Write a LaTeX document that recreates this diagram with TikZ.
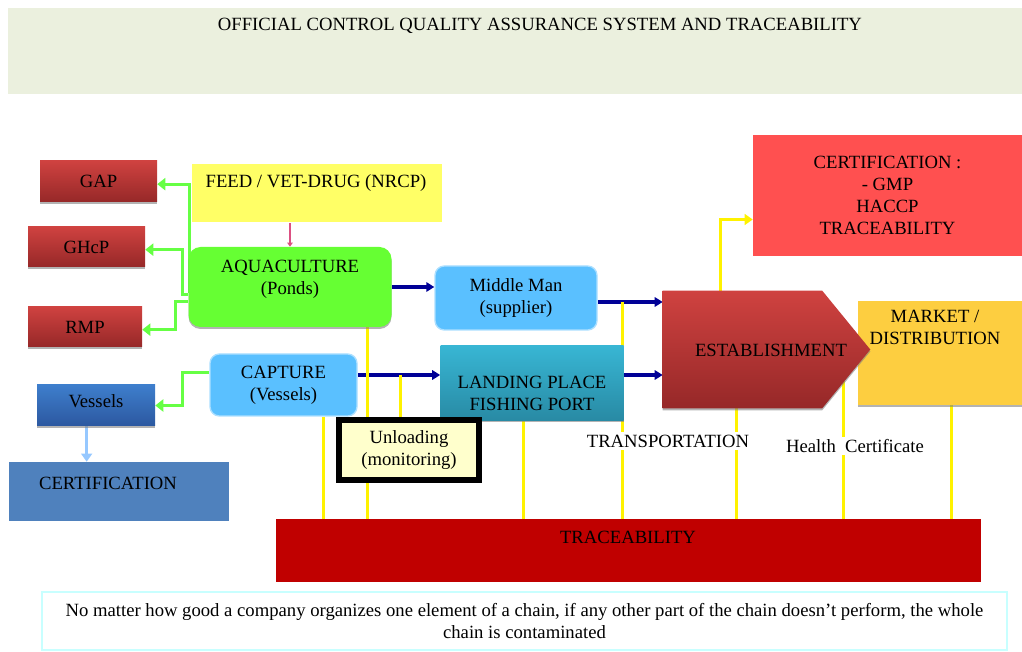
\documentclass[tikz,border=0pt]{standalone}
\usepackage{fontspec}
\setmainfont{Liberation Serif}
\usepackage{tikz}
\usetikzlibrary{arrows.meta,positioning,shadows,backgrounds}

\definecolor{bannerbg}{RGB}{235,240,222}
\definecolor{brick}{RGB}{207,66,64}
\definecolor{brickdark}{RGB}{150,40,40}
\definecolor{feedyellow}{RGB}{255,255,102}
\definecolor{pondgreen}{RGB}{102,255,51}
\definecolor{arrowgreen}{RGB}{102,255,68}
\definecolor{skyblue}{RGB}{90,192,255}
\definecolor{tealtop}{RGB}{56,182,212}
\definecolor{tealbot}{RGB}{40,138,164}
\definecolor{vesseltop}{RGB}{62,126,204}
\definecolor{vesselbot}{RGB}{44,88,160}
\definecolor{certblue}{RGB}{79,129,189}
\definecolor{paleblue}{RGB}{150,200,255}
\definecolor{navy}{RGB}{0,0,150}
\definecolor{certred}{RGB}{255,80,80}
\definecolor{marketgold}{RGB}{253,206,64}
\definecolor{tracered}{RGB}{192,0,0}
\definecolor{footline}{RGB}{200,255,255}
\definecolor{paleyellow}{RGB}{255,255,204}
\definecolor{drugpink}{RGB}{220,80,130}

\begin{document}
\begin{tikzpicture}[x=0.75pt,y=-0.75pt,
    every node/.style={font=\fontsize{14}{16.5}\selectfont, align=center, inner sep=0pt},
    dropped/.style={drop shadow={shadow xshift=0pt, shadow yshift=-1.5pt, fill=gray, opacity=.6}},
    redbox/.style={top color=brick, bottom color=brickdark, dropped},
    skybox/.style={fill=skyblue, draw=skyblue!50!white, line width=1pt, rounded corners=7pt},
    garrow/.style={draw=arrowgreen, line width=2.25pt, -{Triangle[length=6pt,width=9pt]}},
    narrow/.style={draw=navy, line width=2.5pt, -{Triangle[length=6pt,width=7pt]}},
    yline/.style={draw=yellow, line width=2.25pt},
    textbg/.style={fill=white, inner sep=2pt}]
\useasboundingbox (0,0) rectangle (1022,652);

\node[fill=bannerbg, minimum width=760.5pt, minimum height=64.5pt] (banner) at (515,51) {};
\node (title) at (540,26) {OFFICIAL CONTROL QUALITY ASSURANCE SYSTEM AND TRACEABILITY};

\node[redbox, minimum width=87.75pt, minimum height=30.75pt] (gap)  at (98.5,181.5) {GAP};
\node[redbox, minimum width=87.75pt, minimum height=30pt]    (ghcp) at (86.5,247)   {GHcP};
\node[redbox, minimum width=85.5pt,  minimum height=30pt]    (rmp)  at (85,327)     {RMP};

\node[fill=feedyellow, minimum width=187.5pt, minimum height=43.5pt] (feed) at (316.5,193.5) {};
\node (feedtext) at (316,183) {FEED / VET-DRUG (NRCP)};

\node[fill=pondgreen, rounded corners=9pt, dropped, minimum width=152.25pt, minimum height=60pt] (aqua) at (290,287) {};
\node (aquatext) at (290,279) {AQUACULTURE\\(Ponds)};

\node[skybox, minimum width=121.5pt, minimum height=48pt] (mid) at (516,298) {Middle Man\\(supplier)};
\node[skybox, minimum width=110.25pt, minimum height=46.5pt] (capture) at (283.5,385) {CAPTURE\\(Vessels)};
\node[top color=tealtop, bottom color=tealbot, dropped, minimum width=137.25pt, minimum height=56.25pt] (landing) at (532,383) {};
\node (landtext) at (532,393) {LANDING PLACE\\FISHING PORT};

\node[top color=vesseltop, bottom color=vesselbot, dropped, minimum width=88.5pt, minimum height=30.75pt] (vessels) at (96,405.5) {};
\node (vesseltext) at (96,401) {Vessels};
\node[fill=certblue, minimum width=165pt, minimum height=44.25pt] (certb) at (119,491.5) {};
\node (certbtext) at (108,483) {CERTIFICATION};

\node[draw=black, line width=4.5pt, fill=paleyellow, minimum width=105pt, minimum height=45pt] (unload) at (409,450) {Unloading\\(monitoring)};

\node[fill=certred, minimum width=201.75pt, minimum height=90.75pt] (certr) at (887.5,195.5) {CERTIFICATION :\\- GMP\\HACCP\\TRACEABILITY};
\node[fill=marketgold, dropped, minimum width=123pt, minimum height=78pt] (market) at (940,353) {};
\node (markettext) at (935,327) {MARKET /\\DISTRIBUTION};

% establishment: body node plus its pointed end
\node[minimum width=119.25pt, minimum height=87.75pt] (est) at (742.5,349.5) {};
\path[top color=brick, bottom color=brickdark, dropped]
  (est.north west) -- (est.north east) -- ([xshift=36pt]est.east) -- (est.south east) -- (est.south west) -- cycle;
\node (esttext) at (771,350) {ESTABLISHMENT};

\node[fill=tracered, minimum width=528.75pt, minimum height=47.25pt] (trace) at (628.5,550.5) {};
\node (tracetext) at (628,537) {TRACEABILITY};
\node[draw=footline, line width=1pt, minimum width=723.75pt, minimum height=43.5pt] (footer) at (524.5,621)
  {No matter how good a company organizes one element of a chain, if any other part of the chain doesn't perform, the whole\\chain is contaminated};

\node[textbg] (transport) at (668,441) {TRANSPORTATION};
\node[textbg] (health) at (855,446) {Health\ \ Certificate};

\begin{scope}[on background layer]
  % green lines from the farm and the boat
  \draw[garrow] (aqua.west) ++(1,6) |- ([yshift=-2pt]gap.east);
  \draw[garrow] (aqua.west) ++(0,8) -- ++(-6,0) |- ([yshift=-2pt]ghcp.east);
  \draw[garrow] (aqua.west) ++(0,15) -- ++(-13,0) |- ([yshift=-2pt]rmp.east);
  \draw[garrow] (capture.west) ++(0,-12) -- ++(-27,0) |- (vessels.east);
  \draw[draw=paleblue, line width=2.25pt, -{Triangle[length=6pt,width=8pt]}] ([xshift=-7pt]vessels.south) -- ([xshift=-7pt]vessels.south |- certb.north);
  \draw[draw=drugpink, line width=1pt, -{Triangle[length=3pt,width=4pt]}] (aqua.north |- feed.south) -- (aqua.north);

  % the chain
  \draw[narrow] (aqua.east) -- (aqua.east -| mid.west);
  \draw[narrow] ([yshift=7.5pt]capture.east) -- ([yshift=7.5pt]capture.east -| landing.west) coordinate[pos=0.52] (cl);
  \draw[narrow] ([yshift=-3pt]mid.east) -- ([yshift=-3pt]mid.east -| est.west) coordinate[pos=0.38] (me);
  \draw[narrow] ([yshift=6pt]landing.east) -- ([yshift=6pt]landing.east -| est.west);
  \draw[draw=yellow, line width=2.25pt, -{Triangle[length=6pt,width=8pt]}] (720,0 |- est.north) |- ([yshift=-18pt]certr.west);

  % down to traceability
  \draw[yline] (323,0 |- capture.south) -- (323,0 |- trace.north);
  \draw[yline] (367,0 |- aqua.south) -- (367,0 |- trace.north);
  \draw[yline] (cl) -- (cl |- unload.north);
  \draw[yline] (523,0 |- landing.south) -- (523,0 |- trace.north);
  \draw[yline] (me) -- (me |- trace.north);
  \draw[yline] (736,0 |- est.south) -- (736,0 |- trace.north);
  \draw[yline] (843,0 |- est.center) -- (843,0 |- trace.north);
  \draw[yline] (951,0 |- market.south) -- (951,0 |- trace.north);
\end{scope}
\end{tikzpicture}
\end{document}
